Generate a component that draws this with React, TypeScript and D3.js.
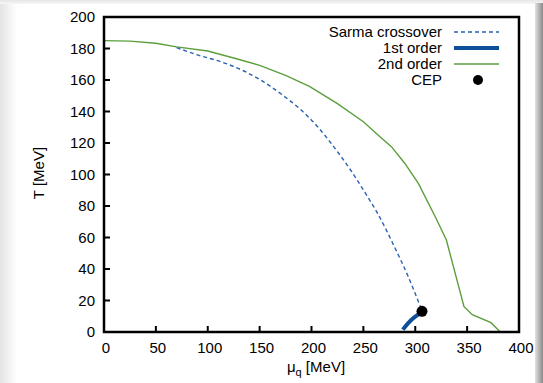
import React from "react";
import * as d3 from "d3";

const W = 543;
const H = 383;

const xTicks = [0, 50, 100, 150, 200, 250, 300, 350, 400];
const yTicks = [0, 20, 40, 60, 80, 100, 120, 140, 160, 180, 200];

const secondMu = [0, 25, 50, 70, 100, 125, 150, 175, 198, 225, 250, 266, 277, 290, 303, 320, 330, 347, 355, 373, 382];
const secondT = [185, 184.7, 183.3, 181, 178.4, 174, 169.3, 163, 156, 145, 133.5, 124, 117.7, 107, 94.4, 72.2, 58.4, 16.1, 11, 5.9, 0];

const sarmaMu = [70, 90, 117, 150, 173, 189, 205, 221, 237, 253, 264, 280, 293, 305];
const sarmaT = [180.5, 176, 170.6, 160.4, 150, 141.5, 131, 118, 103.5, 87, 75, 54, 35.5, 16];

const firstMu = [288, 293, 298, 303, 306];
const firstT = [1.5, 5.5, 8.7, 11.2, 12.7];

const cepMu = [306.5];
const cepT = [13.1];

const legendLabels = ["Sarma crossover", "1st order", "2nd order", "CEP"];

const FONT = "'Liberation Sans', Arial, Helvetica, sans-serif";
const BLUE_D = "#2a62b0";
const BLUE = "#0d4f98";
const GREEN = "#5b9e3c";

export default function App() {
  const m = { left: 104, right: 519, top: 17, bottom: 332 };
  const x = d3.scaleLinear().domain([0, 400]).range([m.left, m.right]);
  const y = d3.scaleLinear().domain([0, 200]).range([m.bottom, m.top]);
  const line = d3
    .line<[number, number]>()
    .x((d) => x(d[0]))
    .y((d) => y(d[1]));
  const smooth = d3
    .line<[number, number]>()
    .x((d) => x(d[0]))
    .y((d) => y(d[1]))
    .curve(d3.curveMonotoneX);
  const zip = (a: number[], b: number[]) => a.map((v, i) => [v, b[i]] as [number, number]);

  const legX0 = 454;
  const legX1 = 499;
  const legTextX = 442;
  const legY = [32, 48, 64, 80];

  return (
    <div style={{ position: "fixed", left: 0, top: 0, width: W, height: H }}>
      <svg width={W} height={H} style={{ display: "block" }} fontFamily={FONT}>
        <defs>
          <linearGradient id="lg" x1="0" x2="1" y1="0" y2="0">
            <stop offset="0" stopColor="#e4e4e4" />
            <stop offset="1" stopColor="#ffffff" />
          </linearGradient>
          <linearGradient id="rg" x1="0" x2="1" y1="0" y2="0">
            <stop offset="0" stopColor="#e2e2e2" />
            <stop offset="1" stopColor="#8a8a8a" />
          </linearGradient>
          <linearGradient id="tg" x1="0" x2="0" y1="0" y2="1">
            <stop offset="0" stopColor="#e6e6e6" />
            <stop offset="1" stopColor="#f6f6f6" />
          </linearGradient>
        </defs>
        <rect x={0} y={0} width={W} height={H} fill="#ffffff" />
        <rect x={0} y={0} width={17} height={H} fill="url(#lg)" />
        <rect x={0} y={0} width={W} height={4} fill="url(#tg)" />
        <rect x={535} y={3} width={8} height={H} fill="url(#rg)" />

        {/* curves */}
        <path d={line(zip(secondMu, secondT)) || ""} fill="none" stroke={GREEN} strokeWidth={1.4} />
        <path
          d={smooth(zip(sarmaMu, sarmaT)) || ""}
          fill="none"
          stroke={BLUE_D}
          strokeWidth={1.4}
          strokeDasharray="4,3"
        />
        <path
          d={smooth(zip(firstMu, firstT)) || ""}
          fill="none"
          stroke={BLUE}
          strokeWidth={4}
          strokeLinecap="butt"
        />
        {cepMu.map((mu, i) => (
          <circle key={i} cx={x(mu)} cy={y(cepT[i])} r={5.5} fill="#000" />
        ))}

        {/* ticks */}
        {yTicks.map((t) => (
          <g key={"y" + t}>
            <line x1={m.left} x2={m.left + 6} y1={y(t)} y2={y(t)} stroke="#000" strokeWidth={2} />
            <text x={95} y={y(t) + 5} textAnchor="end" fontSize={15} fill="#000">
              {t}
            </text>
          </g>
        ))}
        {xTicks.map((t) => (
          <g key={"x" + t}>
            <line x1={x(t)} x2={x(t)} y1={m.bottom} y2={m.bottom - 6} stroke="#000" strokeWidth={2} />
            <text x={x(t) + 2} y={353} textAnchor="middle" fontSize={15} fill="#000">
              {t}
            </text>
          </g>
        ))}

        {/* frame */}
        <rect
          x={m.left}
          y={m.top}
          width={m.right - m.left}
          height={m.bottom - m.top}
          fill="none"
          stroke="#000"
          strokeWidth={2.5}
        />

        {/* axis labels */}
        <text x={316} y={372} textAnchor="middle" fontSize={15} fill="#000">
          μ<tspan fontSize={11} dy={4}>q</tspan>
          <tspan dy={-4}> [MeV]</tspan>
        </text>
        <text
          transform={`translate(44, ${173}) rotate(-90)`}
          textAnchor="middle"
          fontSize={15}
          fill="#000"
        >
          T [MeV]
        </text>

        {/* legend */}
        {legendLabels.map((lab, i) => (
          <text key={lab} x={legTextX} y={legY[i] + 5} textAnchor="end" fontSize={15} fill="#000">
            {lab}
          </text>
        ))}
        <line x1={legX0} x2={legX1} y1={legY[0]} y2={legY[0]} stroke={BLUE_D} strokeWidth={1.4} strokeDasharray="4,3" />
        <line x1={legX0} x2={legX1} y1={legY[1]} y2={legY[1]} stroke={BLUE} strokeWidth={4} />
        <line x1={legX0} x2={legX1} y1={legY[2]} y2={legY[2]} stroke={GREEN} strokeWidth={1.4} />
        <circle cx={478} cy={legY[3]} r={5} fill="#000" />
      </svg>
    </div>
  );
}
